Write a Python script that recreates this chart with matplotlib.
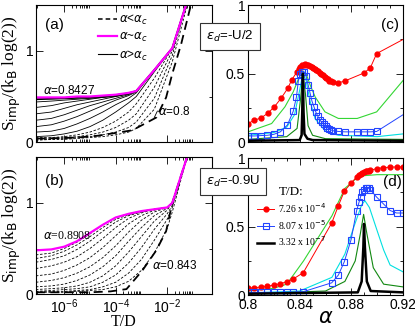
import numpy as np
import matplotlib
matplotlib.use('Agg')
import matplotlib.pyplot as plt
from matplotlib.ticker import FixedLocator, MultipleLocator, LogLocator, NullFormatter
from matplotlib.lines import Line2D

plt.rcParams['font.family'] = ['Liberation Sans', 'DejaVu Sans']
SERIF = ['Liberation Serif', 'DejaVu Serif']

# ---------------- panel (a): entropy vs T/D, eps_d = -U/2 ----------------
lt_a = [-7.1, -6.5, -6.0, -5.5, -5.0, -4.5, -4.0, -3.5, -3.2, -2.5, -1.8, -1.27, -0.9]
magenta_a = [0.49, 0.49, 0.49, 0.50, 0.50, 0.51, 0.52, 0.54, 0.56, 0.79, 1.03, 1.50, 1.85]
thick_solid_a = [0.47, 0.475, 0.48, 0.485, 0.49, 0.50, 0.515, 0.535, 0.56, 0.79, 1.03, 1.50, 1.85]
solid_a = [  # alpha > alpha_c
    [0.44, 0.45, 0.46, 0.47, 0.48, 0.49, 0.51, 0.53, 0.56, 0.79, 1.03, 1.50, 1.85],
    [0.38, 0.40, 0.43, 0.45, 0.47, 0.49, 0.50, 0.53, 0.56, 0.79, 1.03, 1.50, 1.85],
    [0.31, 0.33, 0.37, 0.41, 0.44, 0.47, 0.50, 0.53, 0.56, 0.79, 1.03, 1.50, 1.85],
    [0.24, 0.26, 0.30, 0.35, 0.40, 0.44, 0.48, 0.52, 0.56, 0.79, 1.03, 1.50, 1.85],
    [0.17, 0.19, 0.23, 0.28, 0.34, 0.40, 0.46, 0.51, 0.55, 0.79, 1.03, 1.50, 1.85],
    [0.11, 0.12, 0.15, 0.20, 0.26, 0.33, 0.41, 0.48, 0.54, 0.79, 1.03, 1.50, 1.85],
    [0.06, 0.07, 0.09, 0.12, 0.17, 0.24, 0.33, 0.43, 0.50, 0.77, 1.03, 1.50, 1.85],
]
dashed_a = [  # alpha < alpha_c
    [0.05, 0.05, 0.06, 0.08, 0.11, 0.16, 0.23, 0.33, 0.42, 0.70, 1.03, 1.50, 1.85],
    [0.04, 0.04, 0.05, 0.06, 0.08, 0.11, 0.16, 0.24, 0.31, 0.60, 1.00, 1.50, 1.85],
    [0.03, 0.03, 0.04, 0.05, 0.06, 0.08, 0.11, 0.16, 0.22, 0.48, 0.95, 1.50, 1.85],
    [0.02, 0.03, 0.03, 0.04, 0.05, 0.06, 0.08, 0.11, 0.15, 0.36, 0.88, 1.45, 1.85],
]
lt_a08 = [-7.1, -6.8, -5.5, -4.7, -3.35, -2.42, -2.04, -1.8, -1.46, -1.08, -0.9]
s_a08 = [0.04, 0.04, 0.05, 0.07, 0.13, 0.27, 0.49, 0.75, 1.07, 1.50, 1.70]

# ---------------- panel (b): entropy vs T/D, eps_d = -0.9U ----------------
lt_b = [-7.1, -6.5, -6.0, -5.5, -5.0, -4.5, -4.0, -3.5, -3.0, -2.5, -2.0, -1.8, -1.23, -0.9]
magenta_b = [0.48, 0.49, 0.52, 0.58, 0.67, 0.76, 0.84, 0.88, 0.91, 0.93, 0.95, 1.00, 1.50, 1.85]
dashed_b = [
    [0.43, 0.45, 0.50, 0.57, 0.66, 0.76, 0.84, 0.88, 0.91, 0.93, 0.95, 1.00, 1.50, 1.85],
    [0.39, 0.42, 0.47, 0.54, 0.63, 0.73, 0.82, 0.87, 0.91, 0.93, 0.95, 1.00, 1.50, 1.85],
    [0.35, 0.38, 0.42, 0.49, 0.58, 0.69, 0.79, 0.86, 0.90, 0.93, 0.95, 1.00, 1.50, 1.85],
    [0.28, 0.31, 0.35, 0.41, 0.50, 0.61, 0.73, 0.83, 0.89, 0.93, 0.95, 1.00, 1.50, 1.85],
    [0.20, 0.22, 0.26, 0.32, 0.40, 0.51, 0.64, 0.77, 0.86, 0.92, 0.95, 1.00, 1.50, 1.85],
    [0.13, 0.15, 0.18, 0.23, 0.30, 0.40, 0.53, 0.68, 0.81, 0.90, 0.95, 1.00, 1.50, 1.85],
    [0.08, 0.09, 0.11, 0.15, 0.21, 0.30, 0.42, 0.58, 0.73, 0.86, 0.94, 1.00, 1.50, 1.85],
    [0.05, 0.06, 0.07, 0.09, 0.13, 0.20, 0.31, 0.46, 0.63, 0.80, 0.92, 1.00, 1.50, 1.85],
    [0.03, 0.04, 0.05, 0.06, 0.08, 0.13, 0.21, 0.34, 0.51, 0.71, 0.88, 0.97, 1.50, 1.85],
    [0.02, 0.03, 0.03, 0.04, 0.05, 0.08, 0.13, 0.23, 0.38, 0.59, 0.82, 0.95, 1.50, 1.85],
    [0.02, 0.02, 0.02, 0.03, 0.04, 0.05, 0.08, 0.14, 0.26, 0.45, 0.72, 0.90, 1.50, 1.85],
]
lt_b843 = [-7.1, -5.0, -4.2, -3.58, -2.96, -2.42, -2.04, -1.8, -1.23, -0.9]
s_b843 = [0.02, 0.02, 0.03, 0.055, 0.26, 0.48, 0.69, 1.00, 1.50, 1.85]

# ---------------- panel (c): S vs alpha, eps_d = -U/2 ----------------
red_c_x = [0.800, 0.8049, 0.8101, 0.8152, 0.8204, 0.8255, 0.8307, 0.834,
           0.838, 0.8393, 0.8405, 0.8418, 0.843, 0.8443, 0.8455, 0.8468, 0.848, 0.8493,
           0.8505, 0.8518, 0.853, 0.8543, 0.8555, 0.8568, 0.858, 0.8593, 0.8605, 0.8618,
           0.863, 0.8643, 0.8655, 0.870, 0.875, 0.890, 0.8947, 0.8996, 0.920]
red_c_y = [0.136, 0.16, 0.177, 0.21, 0.258, 0.319, 0.392, 0.457,
           0.515, 0.535, 0.55, 0.56, 0.566, 0.568, 0.567, 0.563, 0.557, 0.55,
           0.543, 0.535, 0.526, 0.517, 0.507, 0.497, 0.487, 0.477, 0.467, 0.458,
           0.45, 0.443, 0.437, 0.433, 0.447, 0.506, 0.543, 0.647, 0.75]
blue_c_x = [0.800, 0.805, 0.810, 0.815, 0.820, 0.825, 0.8305, 0.835,
            0.8375, 0.839, 0.8405, 0.842, 0.8435, 0.845, 0.8465, 0.848, 0.8495, 0.851,
            0.8525, 0.854, 0.8555, 0.857, 0.8585, 0.860, 0.8615, 0.863, 0.8645, 0.866,
            0.870, 0.875, 0.8845, 0.8895, 0.8947, 0.8996, 0.920]
blue_c_y = [0.045, 0.045, 0.048, 0.05, 0.057, 0.075, 0.125, 0.225,
            0.33, 0.45, 0.50, 0.515, 0.51, 0.48, 0.42, 0.36, 0.30, 0.26,
            0.22, 0.19, 0.165, 0.145, 0.13, 0.115, 0.105, 0.095, 0.088, 0.083,
            0.078, 0.075, 0.075, 0.075, 0.075, 0.078, 0.20]
green_c_x = [0.800, 0.8183, 0.8286, 0.835, 0.839, 0.8425, 0.845, 0.848, 0.852, 0.8596, 0.870, 0.8845, 0.8996, 0.920]
green_c_y = [0.075, 0.136, 0.258, 0.367, 0.46, 0.52, 0.50, 0.42, 0.33, 0.221, 0.173, 0.173, 0.221, 0.45]
cyan_c_x = [0.800, 0.820, 0.830, 0.836, 0.840, 0.8425, 0.845, 0.848, 0.852, 0.860, 0.870, 0.900, 0.920]
cyan_c_y = [0.05, 0.07, 0.11, 0.20, 0.38, 0.50, 0.45, 0.30, 0.17, 0.08, 0.05, 0.04, 0.06]
dgreen_c_x = [0.800, 0.830, 0.838, 0.8405, 0.8425, 0.8445, 0.8465, 0.850, 0.860, 0.920]
dgreen_c_y = [0.02, 0.04, 0.10, 0.30, 0.50, 0.35, 0.12, 0.05, 0.025, 0.02]
black_c_x = [0.800, 0.840, 0.8415, 0.842, 0.8425, 0.843, 0.8437, 0.846, 0.850, 0.920]
black_c_y = [0.01, 0.015, 0.05, 0.22, 0.50, 0.22, 0.06, 0.025, 0.015, 0.01]

# ---------------- panel (d): S vs alpha, eps_d = -0.9U ----------------
red_d_x = [0.800, 0.805, 0.810, 0.815, 0.820, 0.825, 0.830, 0.8345, 0.8428, 0.8648, 0.870,
           0.8746, 0.8798, 0.8841, 0.886, 0.8872, 0.8885, 0.8897, 0.891, 0.8922, 0.8935,
           0.8947, 0.8996, 0.9048, 0.910, 0.915, 0.920]
red_d_y = [0.049, 0.054, 0.059, 0.064, 0.074, 0.083, 0.098, 0.115, 0.164, 0.527, 0.654,
           0.76, 0.818, 0.863, 0.875, 0.885, 0.893, 0.90, 0.905, 0.908, 0.91,
           0.912, 0.924, 0.931, 0.935, 0.936, 0.936]
blue_d_x = [0.800, 0.805, 0.810, 0.815, 0.820, 0.825, 0.830, 0.835, 0.8428, 0.8648, 0.870,
            0.8746, 0.8798, 0.8841, 0.886, 0.8872, 0.8885, 0.8897, 0.891, 0.8922, 0.8935,
            0.8947, 0.8996, 0.9048, 0.910, 0.915, 0.920]
blue_d_y = [0.02, 0.02, 0.02, 0.02, 0.02, 0.02, 0.022, 0.022, 0.025, 0.09, 0.147,
            0.245, 0.405, 0.618, 0.68, 0.72, 0.75, 0.77, 0.78, 0.785, 0.78,
            0.77, 0.716, 0.667, 0.618, 0.60, 0.60]
green_d_x = [0.800, 0.820, 0.830, 0.843, 0.865, 0.875, 0.886, 0.900, 0.920]
green_d_y = [0.03, 0.05, 0.08, 0.25, 0.58, 0.78, 0.87, 0.88, 0.88]
cyan_d_x = [0.800, 0.840, 0.865, 0.875, 0.882, 0.888, 0.8905, 0.894, 0.900, 0.905, 0.910, 0.920]
cyan_d_y = [0.015, 0.03, 0.13, 0.30, 0.50, 0.66, 0.69, 0.64, 0.47, 0.33, 0.22, 0.17]
dgreen_d_x = [0.800, 0.860, 0.875, 0.883, 0.887, 0.8895, 0.892, 0.897, 0.905, 0.920]
dgreen_d_y = [0.01, 0.03, 0.10, 0.25, 0.45, 0.59, 0.45, 0.20, 0.08, 0.06]
black_d_x = [0.800, 0.885, 0.888, 0.8893, 0.8898, 0.8905, 0.892, 0.895, 0.920]
black_d_y = [0.01, 0.02, 0.10, 0.35, 0.52, 0.35, 0.10, 0.03, 0.02]

legend_T = ['7.26 x 10$^{-4}$', '8.07 x 10$^{-5}$', '3.32 x 10$^{-7}$']

RED = '#ff0000'
BLUE = '#2244ff'
GREEN = '#33d633'
CYAN = '#00e0e0'
DGREEN = '#118811'
MAG = '#ff00ff'

fig = plt.figure(figsize=(4.15, 3.29), dpi=100)
ax_a = fig.add_axes([0.0867, 0.568, 0.424, 0.416])
ax_b = fig.add_axes([0.0867, 0.106, 0.424, 0.416])
ax_c = fig.add_axes([0.5976, 0.568, 0.3735, 0.416])
ax_d = fig.add_axes([0.5976, 0.103, 0.3735, 0.416])


def T(lt):
    return 10.0 ** np.array(lt)


# panel (a)
for s in dashed_a:
    ax_a.plot(T(lt_a), s, color='k', lw=0.6, ls=(0, (3, 2)))
for s in solid_a:
    ax_a.plot(T(lt_a), s, color='k', lw=0.6)
ax_a.plot(T(lt_a08), s_a08, color='k', lw=1.3, ls=(0, (5, 3)))
ax_a.plot(T(lt_a), thick_solid_a, color='k', lw=1.3)
ax_a.plot(T(lt_a), magenta_a, color=MAG, lw=1.6)
ax_a.text(1.5e-7, 0.53, r'$\alpha$=0.8427', fontsize=8.5)
ax_a.plot(T([-2.5, -2.38]), [0.27, 0.34], color='k', lw=0.6)
ax_a.text(4.5e-3, 0.30, r'$\alpha$=0.8', fontsize=8.5)
ax_a.text(0.05, 0.83, '(a)', transform=ax_a.transAxes, fontsize=11)
leg_a = [Line2D([], [], color='k', lw=1.1, ls=(0, (3, 2))),
         Line2D([], [], color=MAG, lw=1.6),
         Line2D([], [], color='k', lw=0.8)]
ax_a.legend(leg_a, [r'$\alpha$<$\alpha_c$', r'$\alpha$~$\alpha_c$', r'$\alpha$>$\alpha_c$'],
            loc='upper left', bbox_to_anchor=(0.29, 1.02), frameon=False, fontsize=8.5,
            handlelength=1.6, handletextpad=0.2, labelspacing=0.35)

# panel (b)
for s in dashed_b:
    ax_b.plot(T(lt_b), s, color='k', lw=0.6, ls=(0, (3, 2)))
ax_b.plot(T(lt_b843), s_b843, color='k', lw=1.3, ls=(0, (5, 3)))
ax_b.plot(T(lt_b), magenta_b, color=MAG, lw=1.6)
ax_b.text(1.5e-7, 0.60, r'$\alpha$=0.8908', fontsize=8.5, family=SERIF)
ax_b.text(2.6e-3, 0.28, r'$\alpha$=0.843', fontsize=8.5)
ax_b.text(0.05, 0.80, '(b)', transform=ax_b.transAxes, fontsize=11)

for ax in (ax_a, ax_b):
    ax.set_xscale('log')
    ax.set_xlim(8e-8, 0.55)
    ax.set_ylim(0, 1.5)
    ax.xaxis.set_major_locator(FixedLocator([1e-6, 1e-4, 1e-2]))
    ax.xaxis.set_minor_locator(LogLocator(base=100.0, subs=np.arange(2, 10), numticks=20))
    ax.xaxis.set_minor_formatter(NullFormatter())
    ax.yaxis.set_major_locator(FixedLocator([0, 1]))
    ax.yaxis.set_minor_locator(FixedLocator([0.5]))
    ax.set_ylabel(r'S$_{\rm imp}$/(k$_{\rm B}$ log(2))', family=SERIF, fontsize=12.5, labelpad=2)
ax_a.set_xticklabels([])
ax_b.set_xlabel('T/D', family=SERIF, fontsize=11.5, labelpad=-1)

# panel (c)
ax_c.plot(green_c_x, green_c_y, color=GREEN, lw=0.8)
ax_c.plot(cyan_c_x, cyan_c_y, color=CYAN, lw=0.8)
ax_c.plot(dgreen_c_x, dgreen_c_y, color=DGREEN, lw=0.8)
ax_c.plot(red_c_x, red_c_y, color=RED, lw=0.7, marker='o', ms=3.5, markevery=slice(0, -1))
ax_c.plot(blue_c_x, blue_c_y, color=BLUE, lw=0.7, marker='s', ms=4.5, mfc='none', mew=0.8,
          markevery=slice(0, -1))
ax_c.plot(black_c_x, black_c_y, color='k', lw=1.8)
ax_c.text(0.86, 0.83, '(c)', transform=ax_c.transAxes, fontsize=11)

# panel (d)
ax_d.plot(green_d_x, green_d_y, color=GREEN, lw=0.8)
ax_d.plot(cyan_d_x, cyan_d_y, color=CYAN, lw=0.8)
ax_d.plot(dgreen_d_x, dgreen_d_y, color=DGREEN, lw=0.8)
l1, = ax_d.plot(red_d_x, red_d_y, color=RED, lw=0.7, marker='o', ms=3.5)
l2, = ax_d.plot(blue_d_x, blue_d_y, color=BLUE, lw=0.7, marker='s', ms=4.5, mfc='none', mew=0.8)
l3, = ax_d.plot(black_d_x, black_d_y, color='k', lw=1.8)
ax_d.text(0.87, 0.80, '(d)', transform=ax_d.transAxes, fontsize=11)
leg = ax_d.legend([l1, l2, l3], legend_T, title='T/D:', loc='upper left',
                  bbox_to_anchor=(0.0, 0.86), frameon=False, handlelength=1.8,
                  handletextpad=0.4, labelspacing=0.3, prop={'family': SERIF, 'size': 7})
leg.get_title().set_fontfamily(SERIF)
leg.get_title().set_fontsize(9.5)

for ax in (ax_c, ax_d):
    ax.set_xlim(0.8, 0.92)
    ax.set_ylim(0, 1)
    ax.xaxis.set_major_locator(FixedLocator([0.8, 0.84, 0.88, 0.92]))
    ax.xaxis.set_minor_locator(MultipleLocator(0.01))
    ax.yaxis.set_major_locator(FixedLocator([0, 0.5, 1]))
    ax.yaxis.set_minor_locator(FixedLocator([0.25, 0.75]))
    ax.set_yticklabels(['0', '0.5', '1'])
ax_c.set_xticklabels([])
ax_d.set_xticklabels(['0.8', '0.84', '0.88', '0.92'])
ax_d.set_xlabel(r'$\alpha$', family=SERIF, fontsize=15, labelpad=-2)

for ax in (ax_a, ax_b, ax_c, ax_d):
    ax.tick_params(which='both', direction='in', top=True, right=True, labelsize=10, pad=2)
    ax.tick_params(which='major', length=5, width=0.6)
    ax.tick_params(which='minor', length=2.5, width=0.6)
    for sp in ax.spines.values():
        sp.set_linewidth(0.8)

# eps_d boxes, drawn over both columns
box = dict(boxstyle='square,pad=0.45', fc='white', ec='#333333', lw=0.8)
fig.text(0.497, 0.89, r'$\varepsilon_d$=-U/2', fontsize=9.5, va='center', bbox=box)
fig.text(0.497, 0.447, r'$\varepsilon_d$=-0.9U', fontsize=9.5, va='center', bbox=box)

fig.savefig('out.png', dpi=100)
